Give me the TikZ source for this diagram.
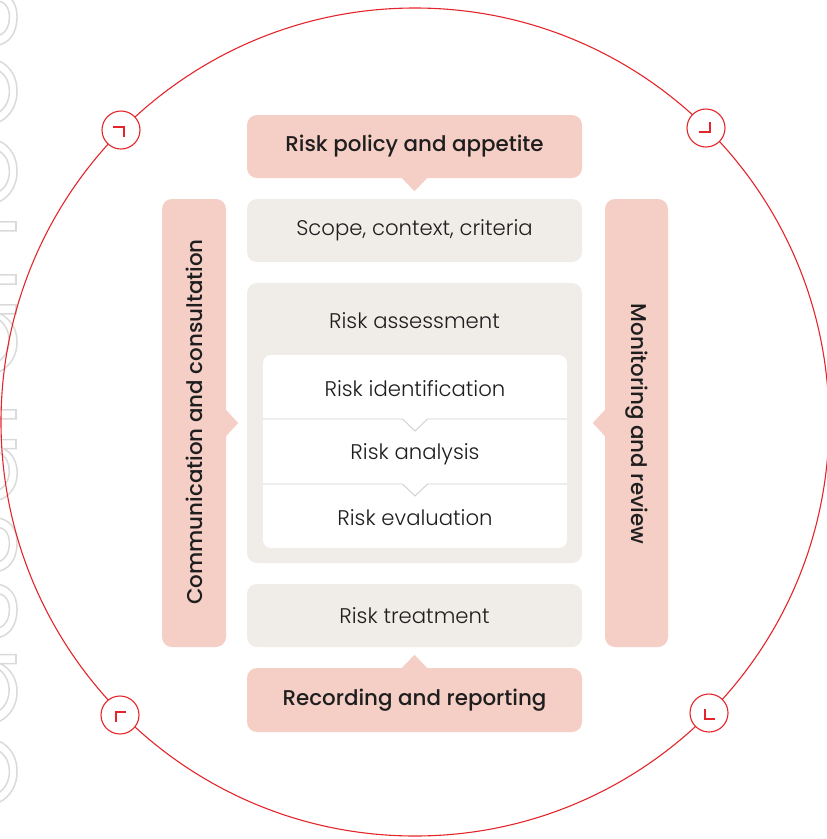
\documentclass[tikz,border=0pt]{standalone}
\usepackage{fontspec}
\setmainfont{Poppins}[UprightFont=* Light, BoldFont=* Medium]
\usetikzlibrary{calc}
\definecolor{ringred}{HTML}{E4252B}
\definecolor{pinkfill}{HTML}{F5CEC5}
\definecolor{beigefill}{HTML}{F0ECE8}
\definecolor{sepgray}{HTML}{CFCFCF}
\definecolor{inktext}{HTML}{1E1E1E}
\definecolor{wmgray}{HTML}{DADADA}
\newcommand{\outlinetext}[1]{\special{pdf:literal direct 1 Tr 1.5 w}#1\special{pdf:literal direct 0 Tr}}
\tikzset{
  box/.style={rectangle, rounded corners=10pt, draw=none, text=inktext, inner sep=0pt},
  pinkbox/.style={box, fill=pinkfill, font=\fontsize{21.4}{25}\selectfont\bfseries},
  beigebox/.style={box, fill=beigefill, font=\fontsize{21.2}{25}\selectfont},
  plain/.style={text=inktext, inner sep=0pt, font=\fontsize{21.2}{25}\selectfont},
  sidelabel/.style={text=inktext, inner sep=0pt, font=\fontsize{21.4}{25}\selectfont\bfseries},
  marker/.style={circle, draw=ringred, fill=white, line width=1.1pt, minimum size=38pt, inner sep=0pt},
  glyph/.style={draw=ringred, line width=1.1pt},
  sep/.style={draw=sepgray, line width=0.9pt},
}
\begin{document}
\begin{tikzpicture}[x=1pt,y=-1pt]
\useasboundingbox (0,0) rectangle (827,839);
% faint outline lettering at the left edge
\node[rotate=90, anchor=base west, inner sep=0pt, text=wmgray] (wm) at (16,860)
  {\fontsize{130}{130}\selectfont\outlinetext{reassurances}};
% ring
\draw[ringred, line width=1.1pt] (415,422) circle[radius=414];
% corner markers
\node[marker] (mtl) at (121,130) {};
\node[marker] (mtr) at (706,128) {};
\node[marker] (mbl) at (120,715) {};
\node[marker] (mbr) at (709,713) {};
\draw[glyph] ([shift={(-8,-3)}]mtl.center) -- ++(11,0) -- ++(0,10);
\draw[glyph] ([shift={(4,-6)}]mtr.center) -- ++(0,10) -- ++(-11,0);
\draw[glyph] ([shift={(6,-3)}]mbl.center) -- ++(-10,0) -- ++(0,10);
\draw[glyph] ([shift={(-4,-4)}]mbr.center) -- ++(0,10) -- ++(10,0);
% main column
\node[pinkbox, minimum width=335pt, minimum height=63pt] (policy) at (414.5,146.5) {Risk policy and appetite};
\fill[pinkfill] ([xshift=-12.5pt]policy.south) -- ([yshift=-13pt]policy.south) -- ([xshift=12.5pt]policy.south) -- cycle;
\node[beigebox, minimum width=335pt, minimum height=63pt] (scope) at (414.5,230.5) {Scope, context, criteria};
\node[box, fill=beigefill, minimum width=335pt, minimum height=280pt] (assess) at (414.5,423) {};
\node[plain] (assesslabel) at (414.5,321) {Risk assessment};
\node[box, fill=white, rounded corners=8pt, minimum width=304pt, minimum height=193pt] (inner) at (415,451.5) {};
\node[plain] (ident) at (415,389) {Risk identification};
\node[plain] (analysis) at (415,454) {Risk analysis};
\node[plain] (evaluation) at (415,518) {Risk evaluation};
\coordinate (s1l) at (inner.west |- 0,419);
\coordinate (s1r) at (inner.east |- 0,419);
\coordinate (s2l) at (inner.west |- 0,484);
\coordinate (s2r) at (inner.east |- 0,484);
\draw[sep] (s1l) -- ($(s1l)!0.5!(s1r)+(-12.5,0)$) -- ($(s1l)!0.5!(s1r)+(0,12)$) -- ($(s1l)!0.5!(s1r)+(12.5,0)$) -- (s1r);
\draw[sep] (s2l) -- ($(s2l)!0.5!(s2r)+(-12.5,0)$) -- ($(s2l)!0.5!(s2r)+(0,12)$) -- ($(s2l)!0.5!(s2r)+(12.5,0)$) -- (s2r);
\node[beigebox, minimum width=335pt, minimum height=63pt] (treat) at (414.5,615.5) {Risk treatment};
\node[pinkbox, minimum width=335pt, minimum height=64pt] (record) at (414.5,700) {Recording and reporting};
\fill[pinkfill] ([xshift=-12.5pt]record.north) -- ([yshift=13pt]record.north) -- ([xshift=12.5pt]record.north) -- cycle;
% side columns
\node[pinkbox, minimum width=64pt, minimum height=448pt] (comm) at (194,423) {};
\node[sidelabel, rotate=90] (commlabel) at (194,422) {Communication and consultation};
\fill[pinkfill] ([yshift=13pt]comm.east) -- ([xshift=12pt]comm.east) -- ([yshift=-13pt]comm.east) -- cycle;
\node[pinkbox, minimum width=63pt, minimum height=448pt] (mon) at (636.5,423) {};
\node[sidelabel, rotate=-90] (monlabel) at (636.5,424) {Monitoring and review};
\fill[pinkfill] ([yshift=13pt]mon.west) -- ([xshift=-12pt]mon.west) -- ([yshift=-13pt]mon.west) -- cycle;
\end{tikzpicture}
\end{document}
